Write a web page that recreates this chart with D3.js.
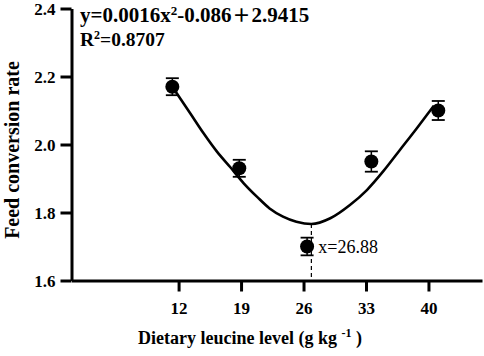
<!DOCTYPE html>
<html>
<head>
<meta charset="utf-8">
<script src="https://cdn.jsdelivr.net/npm/d3@7"></script>
<style>
  body { margin: 0; background: #fff; }
  svg text { font-family: "Liberation Serif", "Times New Roman", serif; }
</style>
</head>
<body>
<div id="chart"></div>
<script>
// measured leucine levels and feed conversion rate (mean, SEM)
const levels = [11.3, 18.8, 26.4, 33.6, 41.1];
const fcr    = [2.17, 1.93, 1.70, 1.95, 2.10];
const sem    = [0.025, 0.025, 0.026, 0.03, 0.028];

// fitted curve
const fitX = [11.5, 13.3, 14.8, 16.3, 17.8, 19.3, 20.8, 22.2, 23.7, 25.2, 26.88, 29.0, 31.2, 33.1, 34.9, 36.8, 38.7, 40.6];
const fitY = [2.162, 2.092, 2.033, 1.979, 1.933, 1.886, 1.846, 1.812, 1.788, 1.773, 1.766, 1.783, 1.822, 1.866, 1.920, 1.984, 2.048, 2.114];

const xTicks = [12, 19, 26, 33, 40];
const yTicks = [1.6, 1.8, 2.0, 2.2, 2.4];
const optimum = 26.88;

const WIDTH = 484, HEIGHT = 356;

const svg = d3.select('#chart').append('svg')
  .attr('width', WIDTH).attr('height', HEIGHT);

const x = d3.scaleLinear().domain([0, 46]).range([71.5, 482]);
const y = d3.scaleLinear().domain([1.6, 2.4]).range([280.5, 8.5]);

/* ---- axes ---- */
const yAxis = svg.append('g')
  .attr('transform', `translate(${x(0)},0)`)
  .call(d3.axisLeft(y).tickValues(yTicks).tickFormat(d3.format('.1f'))
          .tickSize(11).tickSizeOuter(0).tickPadding(5));
const xAxis = svg.append('g')
  .attr('transform', `translate(0,${y(1.6)})`)
  .call(d3.axisBottom(x).tickValues(xTicks).tickFormat(d3.format('d'))
          .tickSize(11).tickSizeOuter(0).tickPadding(10));

[xAxis, yAxis].forEach(g => {
  g.select('.domain').attr('stroke', '#000').attr('stroke-width', 3);
  g.selectAll('.tick line').attr('stroke', '#000').attr('stroke-width', 3);
  g.selectAll('.tick text')
   .attr('fill', '#000')
   .style('font-family', '"Liberation Serif", serif')
   .style('font-weight', 'bold')
   .style('font-size', '17px');
});
yAxis.selectAll('.tick text').attr('dy', '0.36em');

/* ---- fitted curve ---- */
const line = d3.line()
  .x((d, i) => x(fitX[i]))
  .y(d => y(d))
  .curve(d3.curveMonotoneX);
svg.append('path')
  .datum(fitY)
  .attr('fill', 'none')
  .attr('stroke', '#000')
  .attr('stroke-width', 2.6)
  .attr('d', line);

/* ---- optimum marker ---- */
const minY = fitY[fitX.indexOf(optimum)];
svg.append('line')
  .attr('x1', x(optimum)).attr('x2', x(optimum))
  .attr('y1', y(minY)).attr('y2', y(1.6))
  .attr('stroke', '#000').attr('stroke-width', 1.2)
  .attr('stroke-dasharray', '4,3');

/* ---- error bars + points ---- */
const pts = svg.append('g');
levels.forEach((lv, i) => {
  const cx = x(lv);
  pts.append('line')
     .attr('x1', cx).attr('x2', cx)
     .attr('y1', y(fcr[i] - sem[i])).attr('y2', y(fcr[i] + sem[i]))
     .attr('stroke', '#000').attr('stroke-width', 1.5);
  [fcr[i] - sem[i], fcr[i] + sem[i]].forEach(v => {
    pts.append('line')
       .attr('x1', cx - 6.5).attr('x2', cx + 6.5)
       .attr('y1', y(v)).attr('y2', y(v))
       .attr('stroke', '#000').attr('stroke-width', 1.8);
  });
  pts.append('circle')
     .attr('cx', cx).attr('cy', y(fcr[i]))
     .attr('r', 7)
     .attr('fill', '#000');
});

svg.append('text')
  .attr('x', x(optimum) + 7).attr('y', y(fcr[2]) + 6)
  .style('font-size', '18px')
  .text('x=26.88');

/* ---- equation ---- */
const eq = svg.append('text')
  .attr('x', 80).attr('y', 21.5)
  .style('font-size', '21px').style('font-weight', 'bold');
eq.append('tspan').text('y=0.0016x');
eq.append('tspan').attr('dy', -7).style('font-size', '13px').text('2');
eq.append('tspan').attr('dy', 7).text('-0.086');
eq.append('tspan').attr('dx', 1)
  .style('font-family', '"Noto Sans CJK SC", sans-serif').style('font-size', '18px').text('＋');
eq.append('tspan').attr('dx', 1).text('2.9415');

const r2 = svg.append('text')
  .attr('x', 80).attr('y', 46)
  .style('font-size', '19.5px').style('font-weight', 'bold');
r2.append('tspan').text('R');
r2.append('tspan').attr('dy', -7).style('font-size', '12px').text('2');
r2.append('tspan').attr('dy', 7).text('=0.8707');

/* ---- axis titles ---- */
svg.append('text')
  .attr('transform', 'translate(19,150) rotate(-90)')
  .attr('text-anchor', 'middle')
  .style('font-size', '20px').style('font-weight', 'bold')
  .text('Feed conversion rate');

const xt = svg.append('text')
  .attr('x', 250).attr('y', 344)
  .attr('text-anchor', 'middle')
  .style('font-size', '18px').style('font-weight', 'bold');
xt.append('tspan').text('Dietary leucine level (g kg ');
xt.append('tspan').attr('dy', -7).style('font-size', '12px').text('-1');
xt.append('tspan').attr('dy', 7).text(' )');
</script>
</body>
</html>
